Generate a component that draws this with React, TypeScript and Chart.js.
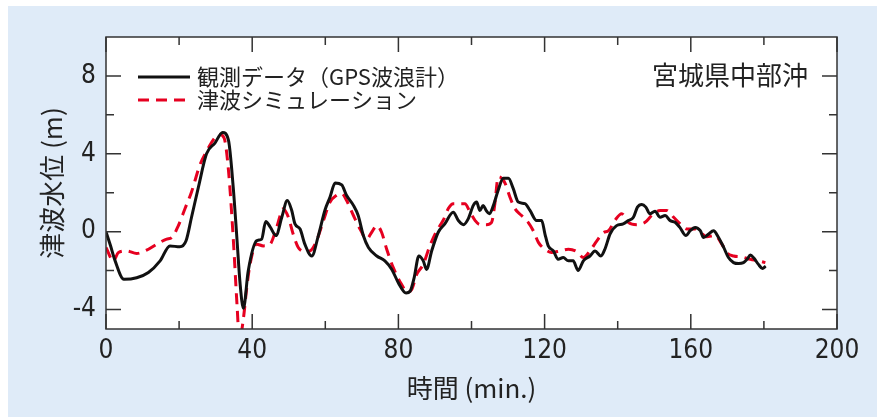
import React, { useEffect, useRef } from 'react';
import { Chart, registerables } from 'chart.js';

Chart.register(...registerables);

// 観測データ (GPS波浪計) — time (min) and water level (m)
const obsTime = [0, 1.2, 2.5, 4.9, 8.4, 11.6, 14.8, 17.5, 20.2, 21.9, 23.4, 25.3, 27.5, 29.8, 31.9, 33.5, 34.8, 35.8, 36.7, 37.6, 38.9, 41.2, 42.6, 43.7, 44.9, 46.5, 48.1, 49.6, 50.8, 51.7, 53.1, 54.4, 56.3, 58.1, 59.9, 61.3, 62.7, 64.5, 65.8, 67.7, 69.0, 70.4, 71.8, 74.1, 76.3, 78.2, 80.0, 82.1, 83.2, 84.3, 85.6, 86.8, 87.7, 89.1, 90.9, 92.7, 95.0, 96.4, 97.8, 99.1, 100.5, 101.4, 102.3, 103.2, 104.0, 104.9, 106.0, 107.3, 108.7, 110.1, 111.4, 112.8, 114.6, 116.0, 117.8, 119.2, 120.1, 121.0, 122.4, 123.7, 125.1, 126.5, 127.8, 129.2, 130.6, 132.4, 133.8, 135.4, 136.6, 137.9, 139.7, 141.5, 142.9, 144.3, 145.4, 146.6, 147.7, 148.8, 150.2, 151.6, 153.0, 154.3, 155.7, 157.0, 158.7, 159.8, 161.2, 162.6, 163.5, 164.9, 166.2, 167.6, 169.0, 170.3, 171.7, 173.1, 174.4, 175.4, 176.3, 177.3, 178.5, 179.6, 180.5];
const obsLevel = [0, -0.7, -1.5, -2.45, -2.37, -2.1, -1.5, -0.73, -0.78, -0.47, 0.74, 2.3, 4.0, 4.55, 5.1, 4.7, 2.3, -0.3, -2.7, -3.93, -2.03, -0.47, -0.38, 0.52, 0.25, -0.2, 0.74, 1.6, 1.1, 0.4, 0.14, -0.64, -1.25, -0.2, 1.1, 1.78, 2.5, 2.4, 1.87, 1.35, 0.83, -0.2, -0.81, -1.25, -1.5, -1.94, -2.63, -3.15, -3.06, -2.37, -1.25, -1.5, -1.94, -0.99, -0.03, 0.4, 1.0, 0.57, 0.36, 0.66, 1.35, 1.52, 1.09, 1.35, 1.09, 0.92, 1.35, 2.13, 2.74, 2.74, 2.22, 1.52, 1.44, 1.09, 0.57, 0.57, -0.12, -0.73, -0.99, -1.42, -1.33, -1.5, -1.5, -1.99, -1.5, -1.25, -0.99, -1.25, -0.85, -0.12, 0.31, 0.4, 0.57, 0.74, 1.26, 1.4, 1.26, 0.92, 1.05, 0.74, 0.83, 0.57, 0.48, 0.22, -0.2, 0.05, 0.22, 0.05, -0.3, -0.12, 0.05, -0.3, -0.81, -1.33, -1.59, -1.64, -1.59, -1.42, -1.2, -1.37, -1.68, -1.89, -1.77];

// 津波シミュレーション
const simTime = [0, 2.0, 3.4, 5.6, 8.4, 11.1, 13.9, 16.6, 18.0, 19.8, 21.6, 23.4, 25.7, 27.5, 29.4, 31.0, 32.3, 33.5, 34.8, 35.9, 36.5, 37.6, 38.5, 39.4, 41.2, 43.0, 44.9, 46.7, 48.5, 49.9, 51.2, 52.6, 54.4, 55.8, 57.6, 59.5, 61.3, 63.1, 64.5, 65.8, 67.7, 69.5, 71.3, 72.7, 74.1, 75.4, 76.8, 78.6, 80.9, 82.4, 83.6, 85.0, 86.8, 88.6, 90.5, 92.3, 93.7, 95.0, 96.9, 98.2, 99.6, 101.0, 102.3, 104.1, 105.5, 106.4, 107.3, 108.3, 109.2, 110.5, 111.9, 113.7, 115.5, 116.9, 118.3, 120.1, 121.9, 124.2, 126.5, 128.8, 130.6, 132.4, 134.3, 136.1, 137.5, 139.3, 141.1, 142.9, 145.2, 147.5, 149.3, 151.6, 153.4, 155.3, 157.1, 158.9, 161.2, 162.6, 164.4, 166.6, 168.5, 169.8, 171.7, 174.0, 176.3, 178.5, 180.4];
const simLevel = [-0.81, -1.5, -1.07, -0.99, -1.12, -0.95, -0.64, -0.38, -0.3, 0.31, 1.18, 2.04, 3.43, 4.12, 4.73, 4.99, 4.82, 3.17, -0.3, -3.93, -5.6, -4.45, -2.9, -1.68, -0.64, -0.73, -0.64, 0.22, 1.18, 0.74, -0.12, -0.81, -1.02, -0.99, -0.47, 0.57, 1.52, 1.87, 1.96, 1.61, 0.83, 0.14, -0.38, -0.03, 0.31, -0.03, -0.9, -1.85, -2.72, -3.1, -2.98, -2.2, -1.68, -0.73, 0.05, 0.6, 1.2, 1.44, 1.44, 1.44, 1.0, 0.57, 0.36, 0.36, 0.48, 1.44, 2.82, 2.74, 2.48, 1.78, 1.18, 0.83, 0.48, 0.05, -0.55, -0.9, -1.07, -0.99, -0.9, -1.02, -1.33, -0.99, -0.47, -0.05, 0.05, 0.6, 0.92, 0.48, 0.36, 0.48, 0.83, 1.09, 1.09, 0.74, 0.4, 0.14, 0.14, -0.03, -0.26, -0.2, -0.64, -1.07, -1.25, -1.3, -1.42, -1.5, -1.59];

const xMajorTicks = [0, 40, 80, 120, 160, 200];
const xMinorTicks = [20, 60, 100, 140, 180];
const yMajorTicks = [-4, 0, 4, 8];
const yMinorTicks = [-2, 2, 6];

const seriesLabels = ['観測データ（GPS波浪計）', '津波シミュレーション'];
const stationLabel = '宮城県中部沖';
const xTitle = '時間 (min.)';
const yTitle = '津波水位 (m)';

const NUM_FONT = "'Liberation Sans Narrow', 'DejaVu Sans Condensed', 'Liberation Sans', sans-serif";
const CJK_FONT = "'Noto Sans CJK JP', 'Noto Sans', sans-serif";
const TEXT_COLOR = '#222222';
const FRAME_COLOR = '#333333';

export default function App() {
  const ref = useRef<HTMLCanvasElement>(null);

  useEffect(() => {
    const canvas = ref.current;
    if (!canvas) return;

    const framePlugin = {
      id: 'frameTicksLegend',
      beforeDraw(chart: any) {
        const { ctx, chartArea: a } = chart;
        ctx.save();
        ctx.fillStyle = '#ffffff';
        ctx.fillRect(a.left, a.top, a.right - a.left, a.bottom - a.top);
        ctx.restore();
      },
      afterDatasetsDraw(chart: any) {
        const { ctx, chartArea: a } = chart;
        const xs = chart.scales.x;
        const ys = chart.scales.y;
        ctx.save();
        ctx.strokeStyle = FRAME_COLOR;
        ctx.lineWidth = 1.5;
        ctx.setLineDash([]);
        ctx.strokeRect(a.left, a.top, a.right - a.left, a.bottom - a.top);
        const major = 15;
        const minor = 8;
        ctx.beginPath();
        const xt = (v: number, len: number) => {
          const px = xs.getPixelForValue(v);
          ctx.moveTo(px, a.bottom);
          ctx.lineTo(px, a.bottom - len);
          ctx.moveTo(px, a.top);
          ctx.lineTo(px, a.top + len);
        };
        const yt = (v: number, len: number) => {
          const py = ys.getPixelForValue(v);
          ctx.moveTo(a.left, py);
          ctx.lineTo(a.left + len, py);
          ctx.moveTo(a.right, py);
          ctx.lineTo(a.right - len, py);
        };
        xMajorTicks.forEach((v) => xt(v, major));
        xMinorTicks.forEach((v) => xt(v, minor));
        yMajorTicks.forEach((v) => yt(v, major));
        yMinorTicks.forEach((v) => yt(v, minor));
        ctx.stroke();

        // legend
        const rows = [77, 100];
        chart.data.datasets.forEach((ds: any, i: number) => {
          const y = rows[i];
          ctx.beginPath();
          ctx.strokeStyle = ds.borderColor;
          ctx.lineWidth = ds.borderWidth;
          ctx.setLineDash(ds.borderDash || []);
          ctx.moveTo(138, y);
          ctx.lineTo(190, y);
          ctx.stroke();
          ctx.setLineDash([]);
          ctx.fillStyle = TEXT_COLOR;
          ctx.font = `22px ${CJK_FONT}`;
          ctx.textAlign = 'left';
          ctx.textBaseline = 'middle';
          ctx.fillText(ds.label, 197, y);
        });

        // station label
        ctx.font = `26px ${CJK_FONT}`;
        ctx.textAlign = 'right';
        ctx.textBaseline = 'middle';
        ctx.fillStyle = TEXT_COLOR;
        ctx.fillText(stationLabel, 808, 75);
        ctx.restore();
      },
    };

    const chart = new Chart(canvas, {
      type: 'line',
      data: {
        datasets: [
          {
            label: seriesLabels[0],
            data: obsTime.map((t, i) => ({ x: t, y: obsLevel[i] })),
            borderColor: '#111111',
            borderWidth: 3,
            pointRadius: 0,
            fill: false,
            cubicInterpolationMode: 'monotone',
            clip: 0,
            order: 1,
          },
          {
            label: seriesLabels[1],
            data: simTime.map((t, i) => ({ x: t, y: simLevel[i] })),
            borderColor: '#e60020',
            borderWidth: 3,
            borderDash: [11, 7],
            pointRadius: 0,
            fill: false,
            cubicInterpolationMode: 'monotone',
            clip: 0,
            order: 2,
          },
        ],
      },
      options: {
        responsive: false,
        animation: false,
        devicePixelRatio: 1,
        layout: { padding: { left: 0, top: 37, right: 51, bottom: 0 } },
        plugins: {
          legend: { display: false },
          tooltip: { enabled: false },
        },
        scales: {
          x: {
            type: 'linear',
            min: 0,
            max: 200,
            afterBuildTicks: (s: any) => {
              s.ticks = xMajorTicks.map((v) => ({ value: v }));
            },
            afterFit: (s: any) => {
              s.height = 89;
            },
            grid: { display: false, drawTicks: false },
            border: { display: false },
            ticks: {
              padding: 7,
              color: TEXT_COLOR,
              font: { family: NUM_FONT, size: 26 },
              maxRotation: 0,
              autoSkip: false,
            },
            title: {
              display: true,
              text: xTitle,
              color: TEXT_COLOR,
              font: { family: CJK_FONT, size: 26 },
              padding: { top: 0, bottom: 14 },
            },
          },
          y: {
            type: 'linear',
            min: -5,
            max: 10,
            afterBuildTicks: (s: any) => {
              s.ticks = yMajorTicks.map((v) => ({ value: v }));
            },
            afterFit: (s: any) => {
              s.width = 106;
            },
            grid: { display: false, drawTicks: false },
            border: { display: false },
            ticks: {
              padding: 10,
              color: TEXT_COLOR,
              font: { family: NUM_FONT, size: 26 },
              autoSkip: false,
            },
            title: {
              display: true,
              text: yTitle,
              color: TEXT_COLOR,
              font: { family: CJK_FONT, size: 26 },
              padding: { top: 37, bottom: 0 },
            },
          },
        },
      },
      plugins: [framePlugin],
    } as any);

    return () => chart.destroy();
  }, []);

  return (
    <div style={{ position: 'fixed', left: 0, top: 0, width: 888, height: 418 }}>
      <div style={{ position: 'absolute', left: 8, top: 6, width: 869, height: 411, background: '#dfebf8' }} />
      <canvas
        ref={ref}
        width={888}
        height={418}
        style={{ position: 'absolute', left: 0, top: 0, width: 888, height: 418 }}
      />
    </div>
  );
}
